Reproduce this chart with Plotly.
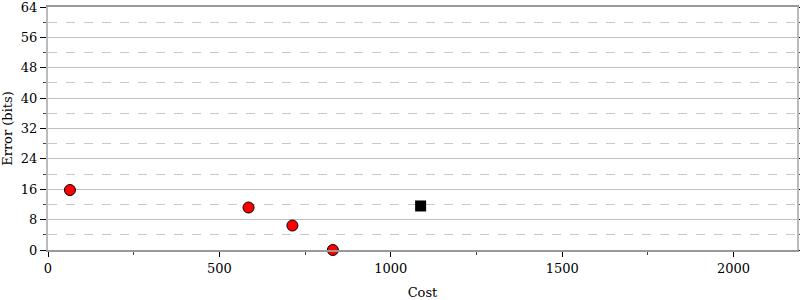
import plotly.graph_objects as go

red_cost = [64, 585, 713, 831]
red_error = [15.8, 11.2, 6.45, 0]
black_cost = [1087]
black_error = [11.6]

x_ticks = [0, 500, 1000, 1500, 2000]
y_ticks = [0, 8, 16, 24, 32, 40, 48, 56, 64]

fig = go.Figure()
fig.add_trace(go.Scatter(x=red_cost, y=red_error, mode="markers",
                         marker=dict(color="red", size=11, line=dict(color="black", width=1)),
                         cliponaxis=False, showlegend=False))
fig.add_trace(go.Scatter(x=black_cost, y=black_error, mode="markers",
                         marker=dict(color="black", symbol="square", size=11),
                         cliponaxis=False, showlegend=False))

font = dict(family="'DejaVu Serif', 'Liberation Serif', serif", size=13, color="black")
fig.update_layout(
    width=800, height=300,
    margin=dict(l=48, r=3, t=7, b=50),
    plot_bgcolor="white", paper_bgcolor="white",
    font=font,
    xaxis=dict(range=[0, 2185], tickvals=x_ticks, ticks="outside", ticklen=5,
               tickcolor="black", showline=True, linecolor="#999999", linewidth=2,
               mirror=True, showgrid=False, zeroline=False, automargin=False,
               tickfont=font,
               minor=dict(dtick=250, tick0=0, ticks="outside", ticklen=3, tickcolor="#444444", showgrid=False),
               title=dict(text="Cost", standoff=14, font=font)),
    yaxis=dict(range=[0, 64.02], tickvals=y_ticks, ticks="outside", ticklen=6,
               tickcolor="black", showline=True, linecolor="#bbbbbb", linewidth=2,
               mirror="ticks", showgrid=True, gridcolor="#c0c0c0", gridwidth=1,
               zeroline=False, automargin=False, ticklabeloverflow="allow",
               tickfont=font,
               minor=dict(dtick=8, tick0=4, ticks="outside", ticklen=3, tickcolor="#444444",
                          showgrid=True, gridcolor="#c8c8c8", griddash="dash", gridwidth=1),
               title=dict(text="Error (bits)", standoff=6, font=font)),
)
fig.write_html("out.html")
